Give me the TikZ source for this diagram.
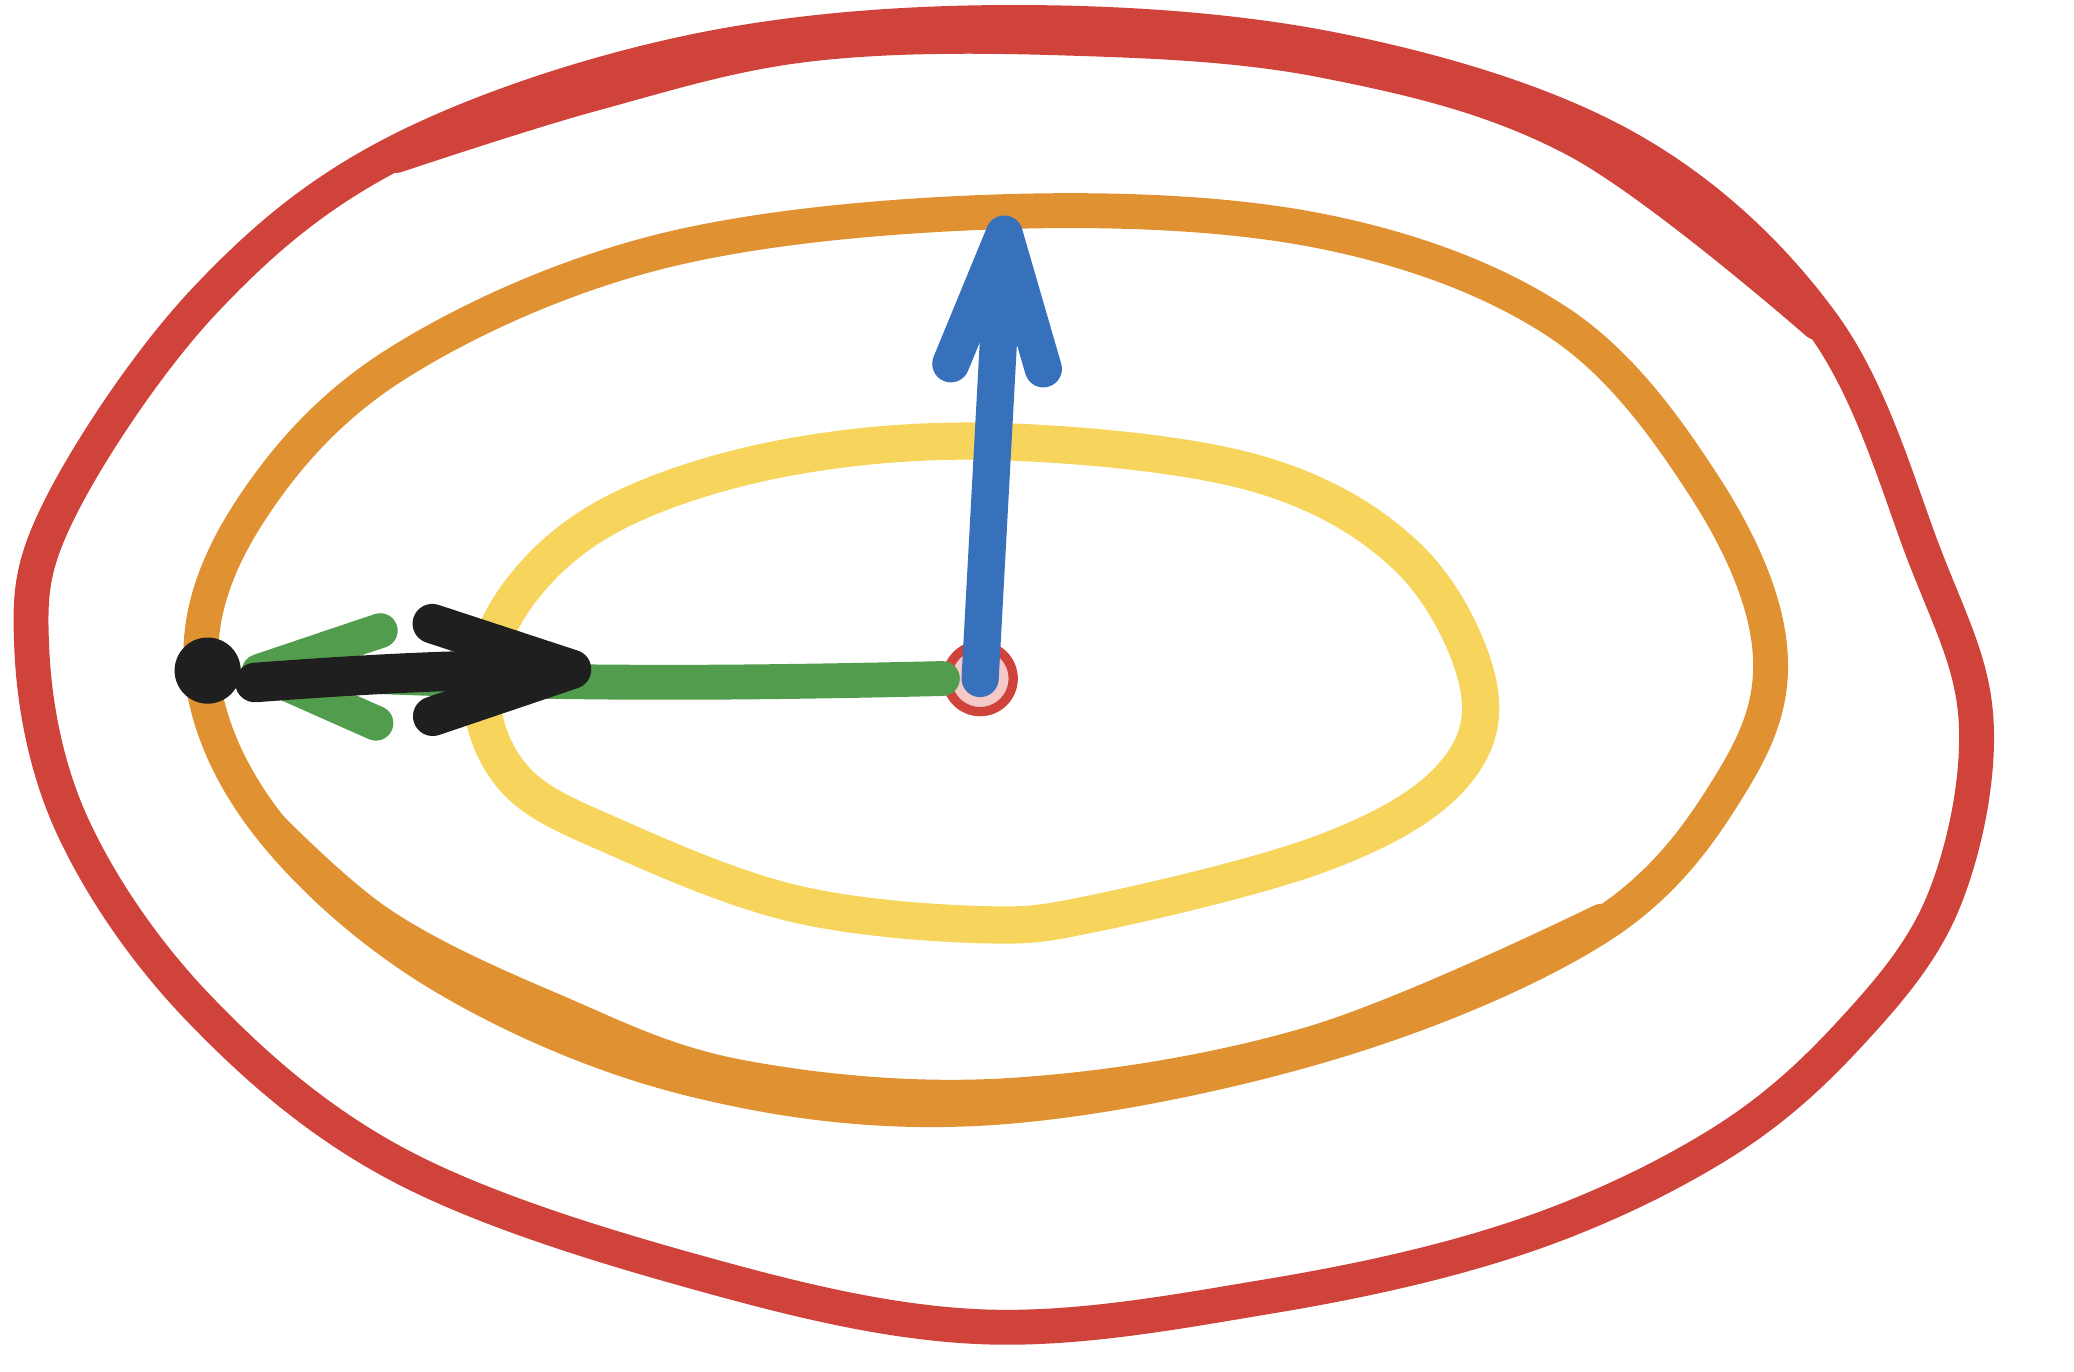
\documentclass[tikz,border=0pt]{standalone}
\usepackage{tikz}
\usetikzlibrary{arrows.meta}

\definecolor{ringred}{HTML}{D0433B}
\definecolor{ringorange}{HTML}{E09233}
\definecolor{ringyellow}{HTML}{F7D55C}
\definecolor{arrgreen}{HTML}{519D4D}
\definecolor{arrblue}{HTML}{3770BB}
\definecolor{arrblack}{HTML}{1F1F1F}
\definecolor{dotpink}{HTML}{F5C9C8}

\tikzset{
	ring/.style={line width=7.5pt, line cap=round, line join=round},
	pen/.style={line width=8pt, line cap=round, line join=round},
	barb/.style={-{Straight Barb[length=#1, width=7mm, line cap=round, line join=round]}}
}

\begin{document}
\begin{tikzpicture}[x=0.01cm, y=-0.01cm]
		\useasboundingbox (0,0) rectangle (1568,1037);

		% Okregi
		\draw[ring, ringred] plot[smooth cycle, tension=0.6] coordinates {
			(760,17) (1010,38) (1230,112) (1378,245) (1455,420) (1494,545)
			(1470,680) (1400,780) (1300,865) (1150,935) (960,980) (740,1003)
			(520,960) (300,880) (150,762) (55,625) (24,490) (45,385) (155,227)
			(300,115) (520,40)};
		\draw[ring, ringred, line width=5pt] plot[smooth, tension=0.6] coordinates {
			(300,122) (450,75) (610,38) (800,33) (1000,50) (1190,110) (1372,248)};
		\draw[ring, ringorange] plot[smooth cycle, tension=0.6] coordinates {
			(760,160) (1000,175) (1180,245) (1290,370) (1338,490) (1310,590)
			(1210,700) (1000,790) (740,838) (520,815) (330,735) (200,620)
			(152,500) (190,385) (300,275) (500,190)};
		\draw[ring, ringorange, line width=5pt] plot[smooth, tension=0.6] coordinates {
			(195,610) (290,695) (420,760) (560,810) (760,824) (990,785) (1210,692)};
		\draw[ring, ringyellow, line width=8pt] plot[smooth cycle, tension=0.6] coordinates {
			(760,334) (950,358) (1065,422) (1118,520) (1095,590) (1000,645)
			(830,690) (740,699) (600,683) (470,635) (390,590) (364,520)
			(395,445) (470,385) (600,345)};

		% Punkty
		\node[circle, draw=ringred, fill=dotpink, line width=2pt, minimum size=0.5cm, inner sep=0pt] (S) at (741,513) {};
		\node[circle, fill=arrblack, minimum size=0.5cm, inner sep=0pt] (P) at (157,507) {};
		\coordinate (T) at (760,163);
		\coordinate (Q) at (447,506);

		% Strzalki
		\draw[pen, arrgreen, line width=7.5pt, barb=9mm] (S.west) to[bend left=2] (P.east);
		\draw[pen, arrblue, barb=10mm] (S.center) -- (T);
		\draw[pen, arrblack, line width=8.5pt, barb=10.5mm] (P.east) ++(10,9) to[bend left=2] (Q);

	\end{tikzpicture}
\end{document}
